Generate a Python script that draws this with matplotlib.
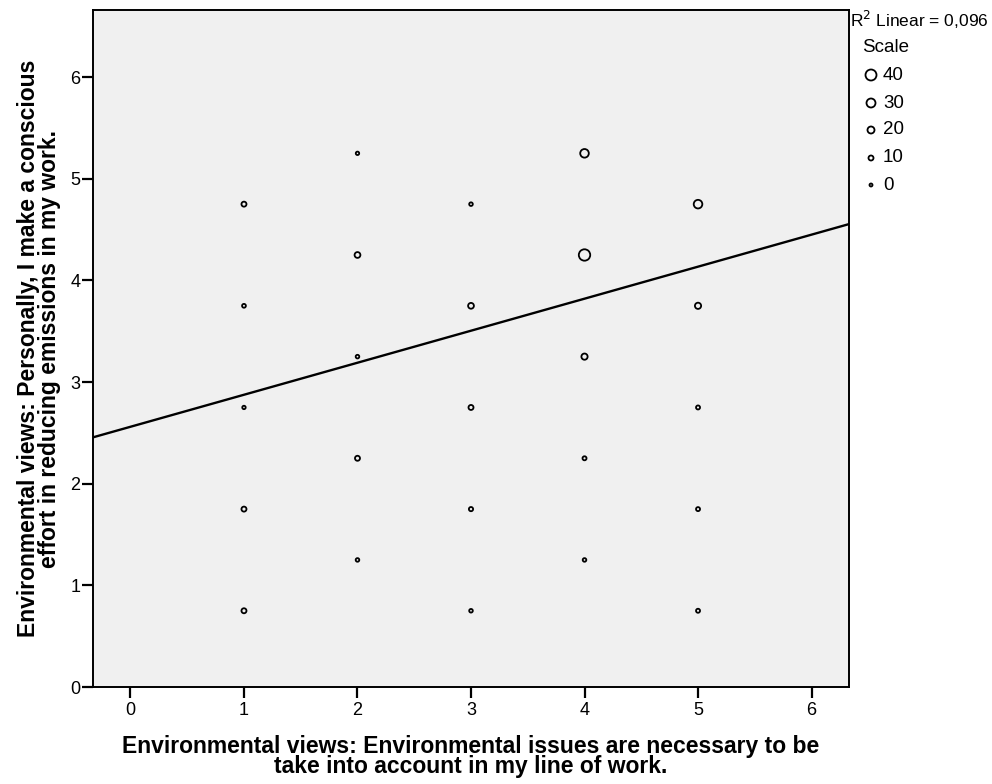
import matplotlib.pyplot as plt
import numpy as np

plt.rcParams['font.family'] = ['Liberation Sans', 'DejaVu Sans']

# Response pairs (x = "issues are necessary", y = "conscious effort") and counts
X_VALS = [1, 1, 1, 1, 1,
          2, 2, 2, 2, 2,
          3, 3, 3, 3, 3,
          4, 4, 4, 4, 4,
          5, 5, 5, 5, 5]
Y_VALS = [4.75, 3.75, 2.75, 1.75, 0.75,
          5.25, 4.25, 3.25, 2.25, 1.25,
          4.75, 3.75, 2.75, 1.75, 0.75,
          5.25, 4.25, 3.25, 2.25, 1.25,
          4.75, 3.75, 2.75, 1.75, 0.75]
COUNTS = [10, 4, 2, 10, 10,
          2, 14, 3, 10, 3,
          3, 14, 10, 6, 3,
          28, 42, 16, 5, 3,
          28, 16, 5, 5, 5]

# Linear fit reported by the software
INTERCEPT = 2.56
SLOPE = 0.315
R2_TEXT = "0,096"

SCALE_LEVELS = [40, 30, 20, 10, 0]

XLIM = (-0.33, 6.33)
YLIM = (0, 6.66)


def marker_size(count):
    # diameter in pixels grows with the count, converted to points^2
    d_px = 3.0 + 0.2 * count
    return (d_px * 72 / 100) ** 2


fig = plt.figure(figsize=(9.92, 7.84), dpi=100)
ax = fig.add_axes([93 / 992, 1 - 687 / 784, (849 - 93) / 992, (687 - 10) / 784])
ax.set_facecolor("#f0f0f0")

sizes = [marker_size(c) for c in COUNTS]
ax.scatter(X_VALS, Y_VALS, s=sizes, facecolors="none", edgecolors="black",
           linewidths=1.3, zorder=3)

xs = np.array(XLIM)
ax.plot(xs, INTERCEPT + SLOPE * xs, color="black", lw=1.7, zorder=2)

ax.set_xlim(*XLIM)
ax.set_ylim(*YLIM)
ax.set_xticks(range(0, 7))
ax.set_yticks(range(0, 7))
ax.tick_params(axis="both", direction="out", length=8, width=1.6,
               labelsize=13, colors="black")
ax.tick_params(axis="x", pad=3)
ax.tick_params(axis="y", pad=1)
for sp in ax.spines.values():
    sp.set_linewidth(1.4)
    sp.set_color("black")

ax.set_xlabel("Environmental views: Environmental issues are necessary to be\n"
              "take into account in my line of work.",
              fontsize=16.5, fontweight="bold", linespacing=0.88, labelpad=11)
ax.set_ylabel("Environmental views: Personally, I make a conscious\n"
              "effort in reducing emissions in my work.",
              fontsize=16.5, fontweight="bold", linespacing=0.88, labelpad=7)

# Fit statistic and size legend to the right of the plot
fig.text(850 / 992, 1 - 20 / 784, "R$^2$ Linear = " + R2_TEXT,
         fontsize=12.5, va="center", ha="left")
fig.text(862 / 992, 1 - 47 / 784, "Scale", fontsize=13.5, va="center", ha="left")
legend_y = [75, 103, 130, 158, 185]
for lvl, py in zip(SCALE_LEVELS, legend_y):
    ax.scatter([871 / 992], [1 - py / 784], s=marker_size(lvl), facecolors="none",
               edgecolors="black", linewidths=1.3, transform=fig.transFigure,
               clip_on=False)
    fig.text(883 / 992, 1 - py / 784, str(lvl), fontsize=13.5,
             va="center", ha="left")

fig.savefig("out.png", dpi=100, facecolor="white")
